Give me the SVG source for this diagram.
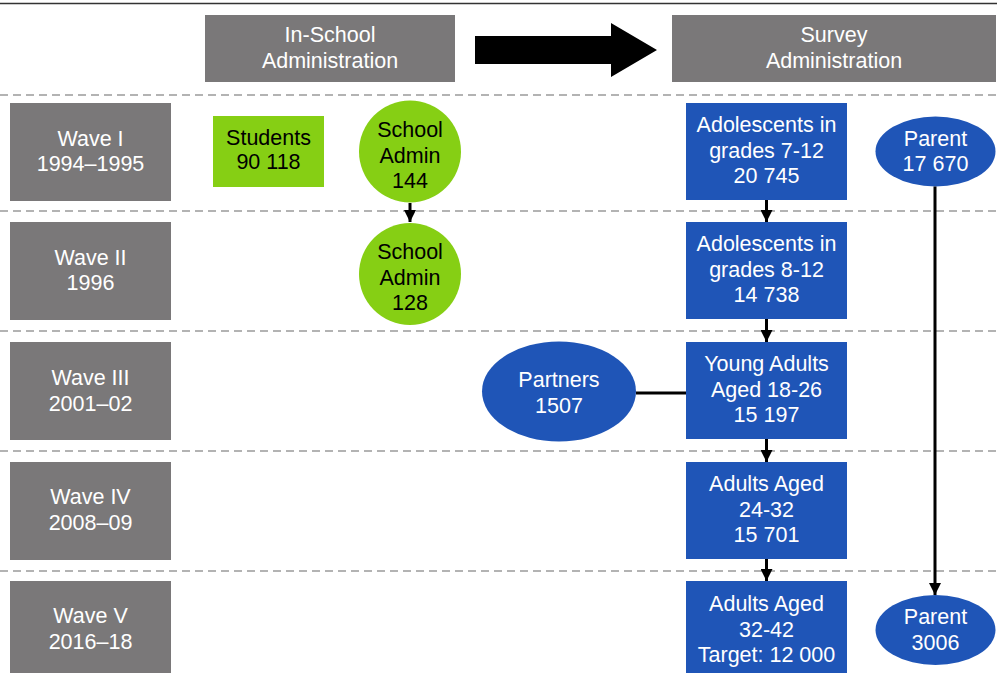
<svg xmlns="http://www.w3.org/2000/svg" width="997" height="673" viewBox="0 0 997 673">
<style>
text{font-family:"Liberation Sans",Arial,sans-serif;font-size:21.5px;text-anchor:middle}
.w{fill:#fff}
.k{fill:#000}
.gray{fill:#7a7879}
.blue{fill:#1f55b7}
.green{fill:#86cf14}
.dash{stroke:#9a9a9a;stroke-width:1.5;stroke-dasharray:8 5;fill:none}
.conn{stroke:#000;stroke-width:3;fill:none}
</style>
<defs>
<marker id="ah" markerUnits="userSpaceOnUse" viewBox="0 0 10 10" refX="10" refY="5" markerWidth="12" markerHeight="12" orient="auto">
<path d="M0,0 L10,5 L0,10 z" fill="#000"/>
</marker>
</defs>
<rect width="997" height="673" fill="#fff"/>
<line x1="0" y1="3.5" x2="997" y2="3.5" stroke="#333" stroke-width="1.5"/>
<g id="separators">
<line class="dash" x1="0" y1="95" x2="997" y2="95"/>
<line class="dash" x1="0" y1="211" x2="997" y2="211"/>
<line class="dash" x1="0" y1="331" x2="997" y2="331"/>
<line class="dash" x1="0" y1="451" x2="997" y2="451"/>
<line class="dash" x1="0" y1="571" x2="997" y2="571"/>
</g>
<g id="header-inschool">
<rect class="gray" x="205" y="15" width="250" height="67"/>
<text class="w" x="330" y="42">In-School</text>
<text class="w" x="330" y="68">Administration</text>
</g>
<g id="big-arrow">
<polygon points="475,36 611,36 611,23 657,50 611,77 611,64 475,64" fill="#000"/>
</g>
<g id="header-survey">
<rect class="gray" x="672" y="15" width="324" height="67"/>
<text class="w" x="834" y="42">Survey</text>
<text class="w" x="834" y="68">Administration</text>
</g>
<g id="wave1">
<rect class="gray" x="10" y="103" width="161" height="98"/>
<text class="w" x="90.5" y="146">Wave I</text>
<text class="w" x="90.5" y="171">1994–1995</text>
</g>
<g id="wave2">
<rect class="gray" x="10" y="222" width="161" height="98"/>
<text class="w" x="90.5" y="265">Wave II</text>
<text class="w" x="90.5" y="290">1996</text>
</g>
<g id="wave3">
<rect class="gray" x="10" y="342" width="161" height="98"/>
<text class="w" x="90.5" y="385">Wave III</text>
<text class="w" x="90.5" y="411">2001–02</text>
</g>
<g id="wave4">
<rect class="gray" x="10" y="462" width="161" height="98"/>
<text class="w" x="90.5" y="504">Wave IV</text>
<text class="w" x="90.5" y="530">2008–09</text>
</g>
<g id="wave5">
<rect class="gray" x="10" y="581" width="161" height="98"/>
<text class="w" x="90.5" y="623">Wave V</text>
<text class="w" x="90.5" y="649">2016–18</text>
</g>
<g id="students">
<rect class="green" x="213" y="116" width="111" height="71"/>
<text class="k" x="268.5" y="145">Students</text>
<text class="k" x="268.5" y="169">90 118</text>
</g>
<g id="school-admin-1">
<circle class="green" cx="410" cy="151.5" r="51"/>
<text class="k" x="410" y="137">School</text>
<text class="k" x="410" y="163">Admin</text>
<text class="k" x="410" y="188">144</text>
</g>
<g id="school-admin-2">
<circle class="green" cx="410" cy="274" r="51"/>
<text class="k" x="410" y="259">School</text>
<text class="k" x="410" y="285">Admin</text>
<text class="k" x="410" y="310">128</text>
</g>
<g id="adolescents-7-12">
<rect class="blue" x="686" y="103" width="161" height="97"/>
<text class="w" x="766.5" y="132">Adolescents in</text>
<text class="w" x="766.5" y="158">grades 7-12</text>
<text class="w" x="766.5" y="183">20 745</text>
</g>
<g id="adolescents-8-12">
<rect class="blue" x="686" y="222" width="161" height="97"/>
<text class="w" x="766.5" y="251">Adolescents in</text>
<text class="w" x="766.5" y="277">grades 8-12</text>
<text class="w" x="766.5" y="302">14 738</text>
</g>
<g id="young-adults">
<rect class="blue" x="686" y="342" width="161" height="97"/>
<text class="w" x="766.5" y="371">Young Adults</text>
<text class="w" x="766.5" y="397">Aged 18-26</text>
<text class="w" x="766.5" y="422">15 197</text>
</g>
<g id="adults-24-32">
<rect class="blue" x="686" y="462" width="161" height="97"/>
<text class="w" x="766.5" y="491">Adults Aged</text>
<text class="w" x="766.5" y="517">24-32</text>
<text class="w" x="766.5" y="542">15 701</text>
</g>
<g id="adults-32-42">
<rect class="blue" x="686" y="581" width="161" height="98"/>
<text class="w" x="766.5" y="611">Adults Aged</text>
<text class="w" x="766.5" y="637">32-42</text>
<text class="w" x="766.5" y="662">Target: 12 000</text>
</g>
<g id="partners">
<ellipse class="blue" cx="559" cy="391.5" rx="77" ry="50"/>
<text class="w" x="559" y="387">Partners</text>
<text class="w" x="559" y="413">1507</text>
</g>
<g id="parent-1">
<ellipse class="blue" cx="935.5" cy="151.5" rx="60" ry="35"/>
<text class="w" x="935.5" y="146">Parent</text>
<text class="w" x="935.5" y="171">17 670</text>
</g>
<g id="parent-2">
<ellipse class="blue" cx="935.5" cy="630" rx="60" ry="35"/>
<text class="w" x="935.5" y="624">Parent</text>
<text class="w" x="935.5" y="650">3006</text>
</g>
<g id="connectors">
<line class="conn" x1="410" y1="203" x2="410" y2="222" marker-end="url(#ah)"/>
<line class="conn" x1="766.5" y1="200" x2="766.5" y2="222" marker-end="url(#ah)"/>
<line class="conn" x1="766.5" y1="319" x2="766.5" y2="342" marker-end="url(#ah)"/>
<line class="conn" x1="766.5" y1="439" x2="766.5" y2="462" marker-end="url(#ah)"/>
<line class="conn" x1="766.5" y1="559" x2="766.5" y2="581" marker-end="url(#ah)"/>
<line class="conn" x1="636" y1="393" x2="686" y2="393"/>
<line class="conn" x1="935" y1="186.5" x2="935" y2="595" marker-end="url(#ah)"/>
</g>
</svg>
